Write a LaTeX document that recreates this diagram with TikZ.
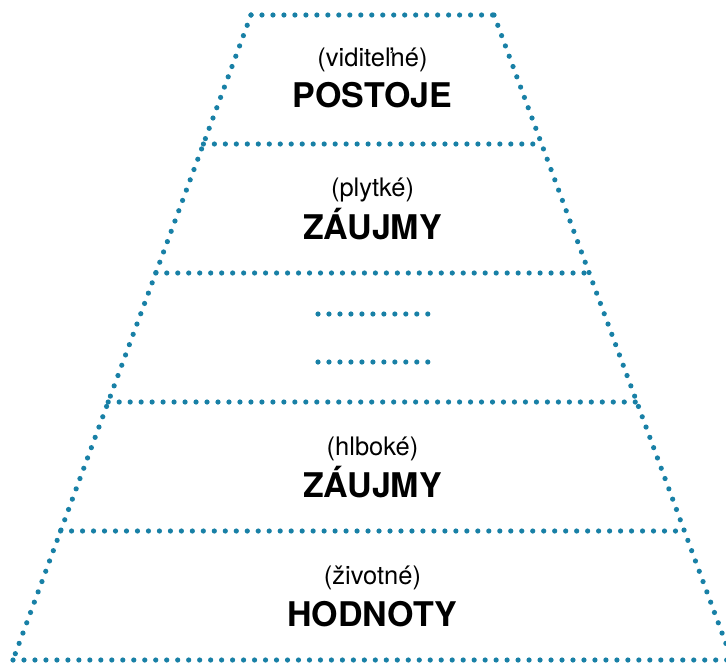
\documentclass[tikz,border=0pt]{standalone}
\usepackage{fontspec}
\setmainfont{TeX Gyre Heros}
\usetikzlibrary{calc}
\definecolor{dotblue}{RGB}{24,128,166}
\tikzset{
  dotline/.style={draw=dotblue, line width=5.2pt, line cap=round, dash pattern=on 0pt off 10.98pt},
  smalllabel/.style={anchor=base, inner sep=0pt, font=\fontsize{25.5}{30}\selectfont},
  biglabel/.style={anchor=base, inner sep=0pt, font=\fontsize{34}{40}\selectfont\bfseries}
}
\begin{document}
\begin{tikzpicture}[x=1pt,y=-1pt]
  \useasboundingbox (0,0) rectangle (726,662);
  \clip (0,0) rectangle (726,662);
  % corners of the trapezoid
  \coordinate (tl) at (251,15);
  \coordinate (tr) at (494,15);
  \coordinate (bl) at (13,660);
  \coordinate (br) at (732,660);
  % outline
  \draw[dotline] (tl) -- (tr);
  \draw[dotline] (tl) -- (bl);
  \draw[dotline] (tr) -- (br);
  \draw[dotline] (bl) -- (br);
  % layer separators
  \foreach \t in {0.2,0.4,0.6,0.8}{
    \draw[dotline] ($(tl)!\t!(bl)$) -- ($(tr)!\t!(br)$);
  }
  % placeholder rows in the middle layer
  \coordinate (m1a) at (318,314);
  \coordinate (m1b) at (428.2,314);
  \coordinate (m2a) at (318,362);
  \coordinate (m2b) at (428.2,362);
  \draw[dotline] (m1a) -- (m1b);
  \draw[dotline] (m2a) -- (m2b);
  % labels
  \node[smalllabel] (s1) at (372.5,66) {(viditeľné)};
  \node[biglabel]   (b1) at (372.5,107) {POSTOJE};
  \node[smalllabel] (s2) at (372.5,196) {(plytké)};
  \node[biglabel]   (b2) at (372.5,239) {ZÁUJMY};
  \node[smalllabel] (s4) at (372.5,455) {(hlboké)};
  \node[biglabel]   (b4) at (372.5,497) {ZÁUJMY};
  \node[smalllabel] (s5) at (372.5,584) {(životné)};
  \node[biglabel]   (b5) at (372.5,626) {HODNOTY};
\end{tikzpicture}
\end{document}
